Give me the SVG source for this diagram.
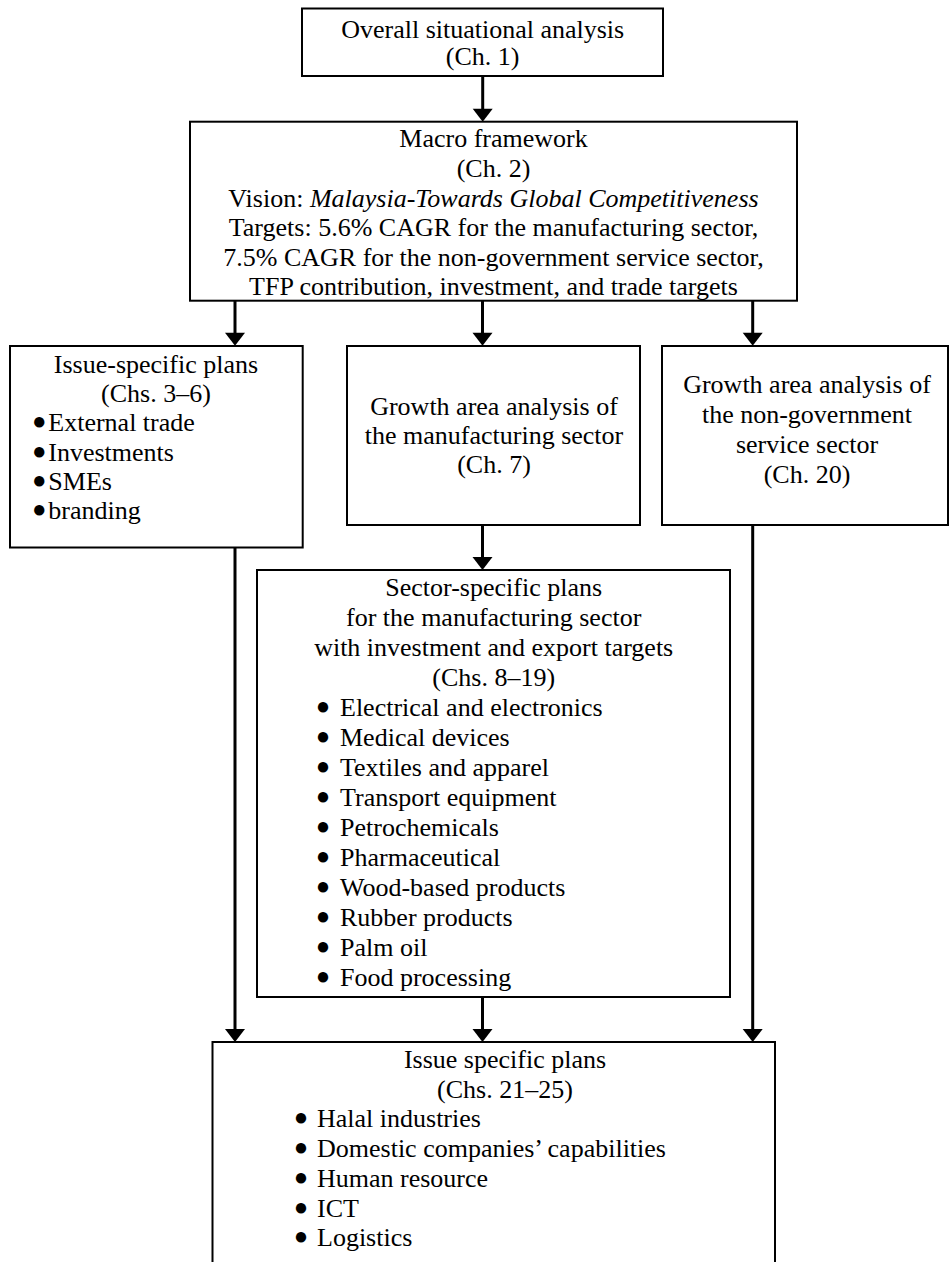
<svg xmlns="http://www.w3.org/2000/svg" width="950" height="1262" viewBox="0 0 950 1262">
  <style>
    .box { fill: #ffffff; stroke: #000000; stroke-width: 2; }
    .t { font-family: "Liberation Serif", "Times New Roman", serif; font-size: 26px; fill: #000000; }
    .c { text-anchor: middle; }
    .b { font-size: 24px; text-anchor: middle; }
    .l { font-size: 26px; text-anchor: start; }
    .conn { stroke: #000000; stroke-width: 3; fill: none; marker-end: url(#arr); }
  </style>
  <defs>
    <marker id="arr" markerUnits="userSpaceOnUse" markerWidth="22" markerHeight="22" viewBox="0 -11 14 22" refX="3" refY="0" orient="auto">
      <path d="M0,-10 L13,0 L0,10 Z" fill="#000000"/>
    </marker>
  </defs>
  <rect x="0" y="0" width="950" height="1262" fill="#ffffff"/>

  <g id="connectors">
    <line class="conn" x1="482.7" y1="76" x2="482.7" y2="111.7"/>
    <line class="conn" x1="235" y1="300.7" x2="235" y2="335.7"/>
    <line class="conn" x1="482.5" y1="300.7" x2="482.5" y2="335.7"/>
    <line class="conn" x1="752.7" y1="300.7" x2="752.7" y2="335.7"/>
    <line class="conn" x1="482.5" y1="525" x2="482.5" y2="560"/>
    <line class="conn" x1="235" y1="547.5" x2="235" y2="1032"/>
    <line class="conn" x1="482.5" y1="997" x2="482.5" y2="1032"/>
    <line class="conn" x1="752.7" y1="525" x2="752.7" y2="1032"/>
  </g>

  <g id="node-overall">
    <rect class="box" x="302" y="8.5" width="361" height="67.5"/>
    <text class="t c" x="482.7" y="38">Overall situational analysis</text>
    <text class="t c" x="482.7" y="65">(Ch. 1)</text>
  </g>

  <g id="node-macro">
    <rect class="box" x="190" y="121.7" width="607" height="179"/>
    <text class="t c" x="493.5" y="147">Macro framework</text>
    <text class="t c" x="493.5" y="177">(Ch. 2)</text>
    <text class="t c" x="493.5" y="206.5">Vision: <tspan font-style="italic">Malaysia-Towards Global Competitiveness</tspan></text>
    <text class="t c" x="493.5" y="236">Targets: 5.6% CAGR for the manufacturing sector,</text>
    <text class="t c" x="493.5" y="266">7.5% CAGR for the non-government service sector,</text>
    <text class="t c" x="493.5" y="295">TFP contribution, investment, and trade targets</text>
  </g>

  <g id="node-issue-left">
    <rect class="box" x="10" y="346" width="292.7" height="201.5"/>
    <text class="t c" x="156" y="373">Issue-specific plans</text>
    <text class="t c" x="156" y="402">(Chs. 3–6)</text>
    <text class="t" y="431"><tspan class="b" x="39.3" dy="-2">●</tspan><tspan class="l" x="48.3" dy="2">External trade</tspan></text>
    <text class="t" y="460.5"><tspan class="b" x="39.3" dy="-2">●</tspan><tspan class="l" x="48.3" dy="2">Investments</tspan></text>
    <text class="t" y="490"><tspan class="b" x="39.3" dy="-2">●</tspan><tspan class="l" x="48.3" dy="2">SMEs</tspan></text>
    <text class="t" y="519"><tspan class="b" x="39.3" dy="-2">●</tspan><tspan class="l" x="48.3" dy="2">branding</tspan></text>
  </g>

  <g id="node-growth-manufacturing">
    <rect class="box" x="347" y="346" width="293" height="179"/>
    <text class="t c" x="494" y="415">Growth area analysis of</text>
    <text class="t c" x="494" y="444">the manufacturing sector</text>
    <text class="t c" x="494" y="473">(Ch. 7)</text>
  </g>

  <g id="node-growth-service">
    <rect class="box" x="662" y="346" width="286" height="179"/>
    <text class="t c" x="807" y="393">Growth area analysis of</text>
    <text class="t c" x="807" y="423">the non-government</text>
    <text class="t c" x="807" y="453">service sector</text>
    <text class="t c" x="807" y="483">(Ch. 20)</text>
  </g>

  <g id="node-sector-plans">
    <rect class="box" x="257" y="570" width="473" height="427"/>
    <text class="t c" x="493.7" y="596">Sector-specific plans</text>
    <text class="t c" x="493.7" y="626">for the manufacturing sector</text>
    <text class="t c" x="493.7" y="656">with investment and export targets</text>
    <text class="t c" x="493.7" y="686">(Chs. 8–19)</text>
    <text class="t" y="716"><tspan class="b" x="323" dy="-2">●</tspan><tspan class="l" x="340" dy="2">Electrical and electronics</tspan></text>
    <text class="t" y="746"><tspan class="b" x="323" dy="-2">●</tspan><tspan class="l" x="340" dy="2">Medical devices</tspan></text>
    <text class="t" y="776"><tspan class="b" x="323" dy="-2">●</tspan><tspan class="l" x="340" dy="2">Textiles and apparel</tspan></text>
    <text class="t" y="806"><tspan class="b" x="323" dy="-2">●</tspan><tspan class="l" x="340" dy="2">Transport equipment</tspan></text>
    <text class="t" y="836"><tspan class="b" x="323" dy="-2">●</tspan><tspan class="l" x="340" dy="2">Petrochemicals</tspan></text>
    <text class="t" y="866"><tspan class="b" x="323" dy="-2">●</tspan><tspan class="l" x="340" dy="2">Pharmaceutical</tspan></text>
    <text class="t" y="896"><tspan class="b" x="323" dy="-2">●</tspan><tspan class="l" x="340" dy="2">Wood-based products</tspan></text>
    <text class="t" y="926"><tspan class="b" x="323" dy="-2">●</tspan><tspan class="l" x="340" dy="2">Rubber products</tspan></text>
    <text class="t" y="956"><tspan class="b" x="323" dy="-2">●</tspan><tspan class="l" x="340" dy="2">Palm oil</tspan></text>
    <text class="t" y="986"><tspan class="b" x="323" dy="-2">●</tspan><tspan class="l" x="340" dy="2">Food processing</tspan></text>
  </g>

  <g id="node-issue-bottom">
    <rect class="box" x="212.5" y="1042" width="562.5" height="240"/>
    <text class="t c" x="505" y="1068">Issue specific plans</text>
    <text class="t c" x="505" y="1097.5">(Chs. 21–25)</text>
    <text class="t" y="1127"><tspan class="b" x="301" dy="-2">●</tspan><tspan class="l" x="317" dy="2">Halal industries</tspan></text>
    <text class="t" y="1157"><tspan class="b" x="301" dy="-2">●</tspan><tspan class="l" x="317" dy="2">Domestic companies’ capabilities</tspan></text>
    <text class="t" y="1186.5"><tspan class="b" x="301" dy="-2">●</tspan><tspan class="l" x="317" dy="2">Human resource</tspan></text>
    <text class="t" y="1216.5"><tspan class="b" x="301" dy="-2">●</tspan><tspan class="l" x="317" dy="2">ICT</tspan></text>
    <text class="t" y="1246"><tspan class="b" x="301" dy="-2">●</tspan><tspan class="l" x="317" dy="2">Logistics</tspan></text>
  </g>
</svg>
